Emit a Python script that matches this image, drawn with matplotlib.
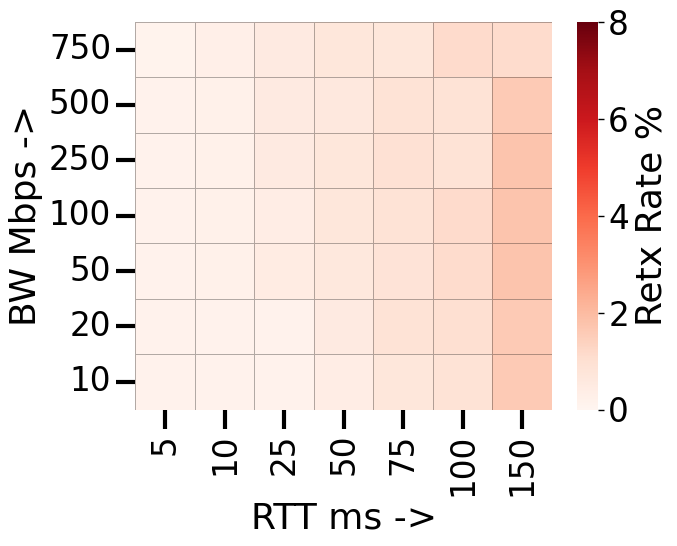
import matplotlib
matplotlib.use("Agg")
import matplotlib.pyplot as plt
import numpy as np
import seaborn as sns

rtt = ["5", "10", "25", "50", "75", "100", "150"]
bw = ["750", "500", "250", "100", "50", "20", "10"]
retx_750 = [0.10, 0.30, 0.50, 0.70, 0.70, 1.15, 1.10]
retx_500 = [0.15, 0.20, 0.50, 0.60, 0.90, 0.90, 1.60]
retx_250 = [0.15, 0.20, 0.50, 0.70, 0.95, 0.90, 1.75]
retx_100 = [0.15, 0.20, 0.40, 0.70, 0.90, 1.15, 1.75]
retx_50 = [0.15, 0.20, 0.45, 0.65, 0.85, 1.10, 1.75]
retx_20 = [0.15, 0.15, 0.15, 0.50, 0.90, 1.00, 1.60]
retx_10 = [0.15, 0.15, 0.15, 0.40, 0.70, 0.90, 1.60]

data = np.array([retx_750, retx_500, retx_250, retx_100, retx_50, retx_20, retx_10])

plt.rcParams['font.family'] = ['DejaVu Sans']
fig = plt.figure(figsize=(6.77, 5.46), dpi=100)
ax = fig.add_axes([0.2, 0.25, 0.615, 0.71])
cax = fig.add_axes([0.853, 0.25, 0.03, 0.71])
sns.heatmap(data, ax=ax, cbar_ax=cax, cmap="Reds", vmin=0, vmax=8,
            linewidths=0.5, linecolor=(0, 0, 0, 0.3),
            xticklabels=rtt, yticklabels=bw,
            cbar_kws={"label": "Retx Rate %", "ticks": [0, 2, 4, 6, 8]})
ax.tick_params(axis='both', labelsize=23.5, length=14, width=3)
ax.set_xticklabels(rtt, rotation=90)
ax.set_yticklabels(bw, rotation=0)
ax.set_xlabel("RTT ms ->", fontsize=26)
ax.set_ylabel("BW Mbps ->", fontsize=26)
cax.tick_params(labelsize=23.5, length=4, width=1)
cax.set_ylabel("Retx Rate %", fontsize=26)
for sp in cax.spines.values():
    sp.set_visible(False)
fig.savefig("out.png", dpi=100)
